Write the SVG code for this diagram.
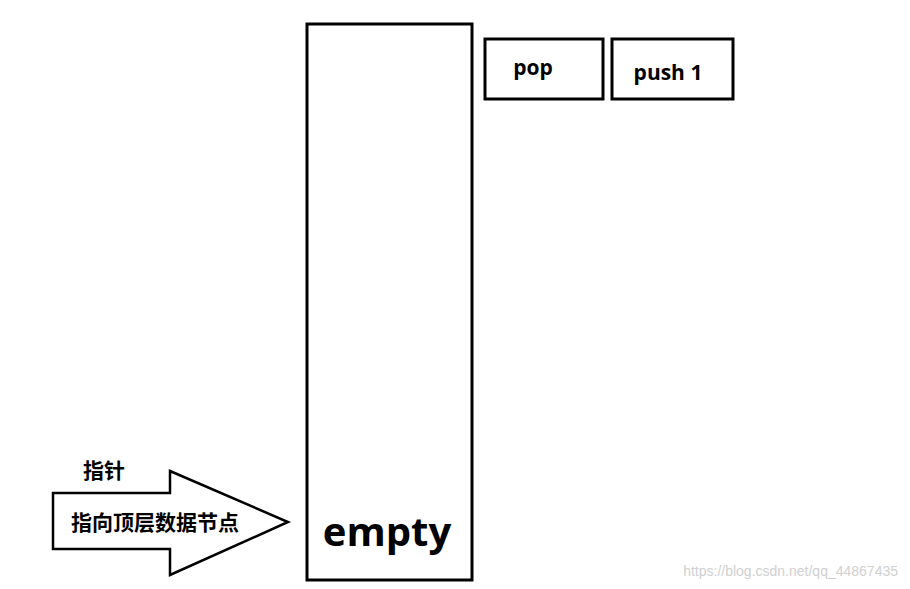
<svg xmlns="http://www.w3.org/2000/svg" width="910" height="589" viewBox="0 0 910 589">
<style>
.box{fill:#fff;stroke:#000;stroke-width:3}
.t{font-family:"Open Sans","Noto Sans CJK SC",sans-serif;font-weight:bold;fill:#000}
</style>
<rect width="910" height="589" fill="#fff"/>
<g id="stack"><rect class="box" x="307" y="24" width="165" height="556"/>
<text class="t" x="387" y="546" font-size="40" text-anchor="middle">empty</text></g>
<g id="pop"><rect class="box" x="485" y="39" width="118" height="60"/>
<text class="t" x="533" y="75" font-size="21" text-anchor="middle">pop</text></g>
<g id="push"><rect class="box" x="612" y="39" width="121" height="60"/>
<text class="t" x="668" y="80" font-size="21" text-anchor="middle">push 1</text></g>
<g id="pointer"><polygon points="53,493 170,493 170,471 288,522 170,575 170,549 53,549" fill="#fff" stroke="#000" stroke-width="2.5"/>
<text class="t" x="155" y="530" font-size="21" text-anchor="middle">指向顶层数据节点</text>
<text class="t" x="104" y="478" font-size="21" text-anchor="middle">指针</text></g>
<text x="898" y="576" font-family="Liberation Sans,sans-serif" font-size="14" fill="#d0d0d0" text-anchor="end">https://blog.csdn.net/qq_44867435</text>
</svg>
